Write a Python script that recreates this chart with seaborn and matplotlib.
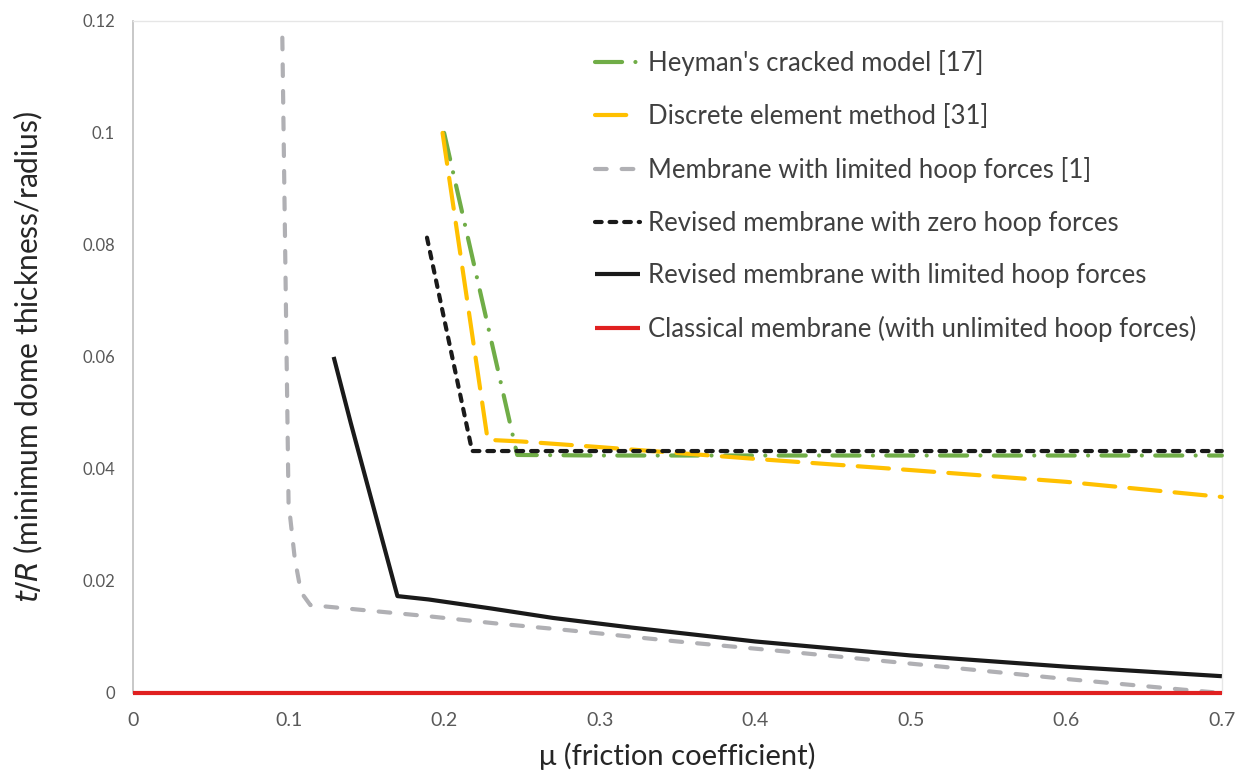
import matplotlib
matplotlib.use("Agg")
import matplotlib.pyplot as plt
import seaborn as sns
import pandas as pd

# --- data: minimum thickness ratio t/R versus friction coefficient mu ---
heyman_mu = [0.200, 0.247, 0.300, 0.400, 0.500, 0.600, 0.700]
heyman_tr = [0.1000, 0.0425, 0.0424, 0.0424, 0.0424, 0.0424, 0.0424]

dem_mu = [0.199, 0.228, 0.250, 0.300, 0.400, 0.500, 0.600, 0.700]
dem_tr = [0.1000, 0.0452, 0.0449, 0.0439, 0.0418, 0.0398, 0.0377, 0.0350]

limited_mu = [0.096, 0.100, 0.104, 0.108, 0.114, 0.190, 0.234, 0.280, 0.350,
              0.420, 0.520, 0.600, 0.675, 0.700]
limited_tr = [0.1170, 0.0340, 0.0240, 0.0180, 0.0157, 0.0137, 0.0124, 0.0112,
              0.0092, 0.0074, 0.0047, 0.0025, 0.0006, 0.0000]

zero_mu = [0.189, 0.218, 0.300, 0.400, 0.500, 0.600, 0.700]
zero_tr = [0.0813, 0.0432, 0.0432, 0.0432, 0.0432, 0.0432, 0.0432]

revised_mu = [0.129, 0.140, 0.170, 0.190, 0.230, 0.270, 0.320, 0.400, 0.500, 0.600, 0.700]
revised_tr = [0.0600, 0.0482, 0.0173, 0.0167, 0.0151, 0.0134, 0.0117, 0.0092, 0.0067, 0.0047, 0.0030]

classic_mu = [0.0, 0.7]
classic_tr = [0.0, 0.0]

series_labels = [
    "Heyman's cracked model [17]",
    "Discrete element method [31]",
    "Membrane with limited hoop forces [1]",
    "Revised membrane with zero hoop forces",
    "Revised membrane with limited hoop forces",
    "Classical membrane (with unlimited hoop forces)",
]

x_ticks = [0, 0.1, 0.2, 0.3, 0.4, 0.5, 0.6, 0.7]
x_tick_labels = ["0", "0.1", "0.2", "0.3", "0.4", "0.5", "0.6", "0.7"]
y_ticks = [0, 0.02, 0.04, 0.06, 0.08, 0.1, 0.12]
y_tick_labels = ["0", "0.02", "0.04", "0.06", "0.08", "0.1", "0.12"]

sns.set_theme(style="white")
plt.rcParams["font.family"] = ["Lato", "DejaVu Sans"]

fig = plt.figure(figsize=(12.43, 7.73), dpi=100)
ax = fig.add_axes([0.107, 0.1035, 0.876, 0.8695])

text_col = "#404040"
lw = 3.0

styles = [
    dict(color="#70AD47", linestyle=(0, (6.5, 3.2, 0.01, 3.2))),
    dict(color="#FFC000", linestyle=(0, (7.5, 3.4))),
    dict(color="#B0B0B4", linestyle=(0, (2.8, 3.6))),
    dict(color="#1A1A1A", linestyle=(0, (1.6, 1.9))),
    dict(color="#1A1A1A", linestyle="-"),
    dict(color="#E02020", linestyle="-"),
]
xs = [heyman_mu, dem_mu, limited_mu, zero_mu, revised_mu, classic_mu]
ys = [heyman_tr, dem_tr, limited_tr, zero_tr, revised_tr, classic_tr]

for x, y, lab, st in zip(xs, ys, series_labels, styles):
    df = pd.DataFrame({"mu": x, "tR": y})
    sns.lineplot(data=df, x="mu", y="tR", ax=ax, label=lab, sort=False,
                 estimator=None, linewidth=lw, dash_capstyle="round",
                 solid_capstyle="butt", solid_joinstyle="round", clip_on=False,
                 zorder=3, **st)

ax.set_xlim(0, 0.7)
ax.set_ylim(0, 0.12)
ax.set_xticks(x_ticks)
ax.set_xticklabels(x_tick_labels, fontsize=14, color="#595959")
ax.set_yticks(y_ticks)
ax.set_yticklabels(y_tick_labels, fontsize=12, color="#595959")
ax.tick_params(axis="x", length=0, pad=14)
ax.tick_params(axis="y", length=0, pad=13)

for side in ["top", "right"]:
    ax.spines[side].set_color("#E6E6E6")
    ax.spines[side].set_linewidth(1.0)
ax.spines["left"].set_color("#BFBFBF")
ax.spines["left"].set_linewidth(1.2)
ax.spines["bottom"].set_visible(False)

ax.set_xlabel("μ (friction coefficient)", fontsize=21, color="#262626", labelpad=9)
ax.set_ylabel("$\\it{t/R}$ (minimum dome thickness/radius)", fontsize=21.5,
              color="#262626", labelpad=27)

leg = ax.legend(loc="upper left", bbox_to_anchor=(0.4242, 0.956), frameon=False,
                fontsize=18.5, handlelength=1.75, handletextpad=0.32,
                labelspacing=1.08, borderaxespad=0, borderpad=0)
for t in leg.get_texts():
    t.set_color(text_col)

fig.savefig("out.png", dpi=100)
